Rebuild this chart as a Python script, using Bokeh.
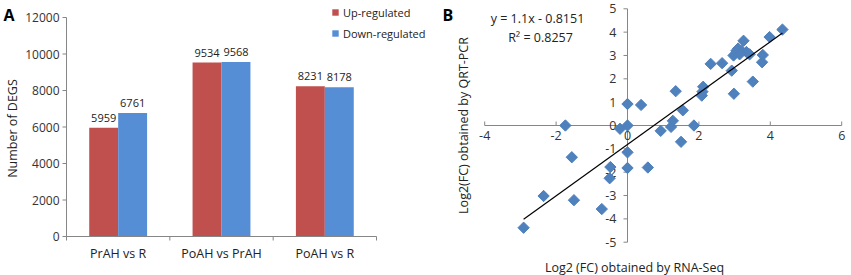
import numpy as np
from bokeh.plotting import figure
from bokeh.models import Range1d, Legend, LegendItem, Label, ColumnDataSource
from bokeh.layouts import row
from bokeh.embed import file_html
from bokeh.resources import INLINE
from bokeh.core.properties import value

# ---------------- data ----------------
comparisons = ["PrAH vs R", "PoAH vs PrAH", "PoAH vs R"]
up_regulated = [5959, 9534, 8231]
down_regulated = [6761, 9568, 8178]
deg_ticks = [0, 2000, 4000, 6000, 8000, 10000, 12000]

rnaseq_fc = [-2.91, -2.35, -1.50, -1.56, -1.74, -0.72, -0.48, -0.50, -0.21, 0.0,
             0.0, 0.0, 0.0, 0.38, 0.57, 0.93, 1.22, 1.27, 1.35, 1.55,
             1.50, 1.86, 2.08, 2.10, 2.12, 2.33, 2.65, 2.92, 2.97, 2.98,
             3.05, 3.10, 3.19, 3.25, 3.33, 3.42, 3.14, 3.51, 3.77, 3.79,
             3.98, 4.34]
qrtpcr_fc = [-4.38, -3.02, -3.20, -1.36, 0.0, -3.58, -1.78, -2.26, -0.14, 0.0,
             0.92, -1.15, -1.82, 0.88, -1.80, -0.23, -0.06, 0.20, 1.47, 0.65,
             -0.70, 0.0, 1.28, 1.45, 1.66, 2.64, 2.67, 2.35, 3.00, 1.36,
             3.20, 3.30, 3.20, 3.63, 3.15, 3.05, 3.05, 1.88, 2.71, 3.02,
             3.79, 4.11]
fit_slope = 1.1
fit_intercept = -0.8151
r_squared = 0.8257
x_ticks_b = [-4, -2, 0, 2, 4, 6]
y_ticks_b = [-5, -4, -3, -2, -1, 0, 1, 2, 3, 4, 5]

RED = "#C0504D"
BLUE = "#558ED5"
MARK = "#4F81BD"
AXIS = "#868686"
TXT = "#333333"
FONT = value("Open Sans")
FONTN = "Open Sans"

H = 275

# ================= panel A =================
WA = 430
A_L, A_R, A_T, A_B = 66.0, 376.0, 17.0, 236.0
n = len(comparisons)
ymax_a = deg_ticks[-1]
ppx_a = (A_R - A_L) / n
ppy_a = (A_B - A_T) / ymax_a

pa = figure(width=WA, height=H, output_backend="svg", toolbar_location=None,
            x_range=Range1d(-A_L / ppx_a, n + (WA - A_R) / ppx_a),
            y_range=Range1d(-(H - A_B) / ppy_a, ymax_a + A_T / ppy_a),
            min_border=0)
pa.axis.visible = False
pa.grid.visible = False
pa.outline_line_color = None

centers = np.arange(n) + 0.5
bw = 0.28
src = ColumnDataSource(dict(
    xu=centers - bw / 2, xd=centers + bw / 2,
    up=up_regulated, down=down_regulated,
    upl=[str(v) for v in up_regulated], downl=[str(v) for v in down_regulated]))

r_up = pa.vbar(x="xu", top="up", width=bw, source=src, fill_color=RED, line_color=None)
r_dn = pa.vbar(x="xd", top="down", width=bw, source=src, fill_color=BLUE, line_color=None)
pa.text(x="xu", y="up", text="upl", source=src, text_align="center",
        text_baseline="bottom", y_offset=-6, text_font_size="11px",
        text_color="#222222", text_font=FONT)
pa.text(x="xd", y="down", text="downl", source=src, text_align="center",
        text_baseline="bottom", y_offset=-6, text_font_size="11px",
        text_color="#222222", text_font=FONT)

# y axis
pa.segment(x0=[0], y0=[0], x1=[0], y1=[ymax_a], line_color=AXIS, line_width=1)
pa.segment(x0=[0] * len(deg_ticks), y0=deg_ticks,
           x1=[-4 / ppx_a] * len(deg_ticks), y1=deg_ticks, line_color=AXIS)
pa.text(x=[0] * len(deg_ticks), y=deg_ticks, text=[str(t) for t in deg_ticks],
        x_offset=-7, text_align="right", text_baseline="middle",
        text_font_size="12px", text_color=TXT, text_font=FONT)
# x axis
bounds = list(range(n + 1))
pa.segment(x0=[0], y0=[0], x1=[n], y1=[0], line_color=AXIS)
pa.segment(x0=bounds, y0=[0] * len(bounds), x1=bounds, y1=[-4 / ppy_a] * len(bounds),
           line_color=AXIS)
pa.text(x=centers, y=[0] * n, text=comparisons, y_offset=8, text_align="center",
        text_baseline="top", text_font_size="12.5px", text_color="#222222",
        text_font=FONT)

pa.add_layout(Label(x=12, y=H - 128, x_units="screen", y_units="screen",
                    text="Number of DEGS", angle=np.pi / 2, text_align="center",
                    text_baseline="middle", text_font_size="12.5px",
                    text_font=FONTN, text_color="#222222"))
pa.add_layout(Label(x=3, y=H - 3, x_units="screen", y_units="screen", text="A",
                    text_font_size="16px", text_font_style="bold",
                    text_baseline="top", text_font=FONTN, text_color="#000000"))

legend = Legend(items=[LegendItem(label="Up-regulated", renderers=[r_up]),
                       LegendItem(label="Down-regulated", renderers=[r_dn])],
                location=(331, H - 41), orientation="vertical",
                glyph_width=8, glyph_height=8, label_height=16, spacing=5,
                padding=2, margin=0, label_standoff=4,
                label_text_font_size="11px", label_text_font=FONTN,
                label_text_color="#222222",
                background_fill_alpha=0, border_line_color=None)
pa.add_layout(legend)

# ================= panel B =================
WB = 421
X0_PX, PPX_B = 197.0, 35.7      # x=0 position and pixels per unit
Y0_PX, PPY_B = 125.0, 23.34     # y=0 position (from top) and pixels per unit
pb = figure(width=WB, height=H, output_backend="svg", toolbar_location=None,
            x_range=Range1d(-X0_PX / PPX_B, (WB - X0_PX) / PPX_B),
            y_range=Range1d(-(H - Y0_PX) / PPY_B, Y0_PX / PPY_B),
            min_border=0)
pb.axis.visible = False
pb.grid.visible = False
pb.outline_line_color = None

# crossing axes
pb.segment(x0=[x_ticks_b[0]], y0=[0], x1=[x_ticks_b[-1]], y1=[0], line_color=AXIS)
pb.segment(x0=[0], y0=[y_ticks_b[0]], x1=[0], y1=[y_ticks_b[-1]], line_color=AXIS)
pb.segment(x0=x_ticks_b, y0=[0] * len(x_ticks_b), x1=x_ticks_b,
           y1=[4 / PPY_B] * len(x_ticks_b), line_color=AXIS)
pb.segment(x0=[0] * len(y_ticks_b), y0=y_ticks_b, x1=[-4 / PPX_B] * len(y_ticks_b),
           y1=y_ticks_b, line_color=AXIS)
pb.text(x=x_ticks_b, y=[0] * len(x_ticks_b), text=[str(t) for t in x_ticks_b],
        y_offset=5, text_align="center", text_baseline="top",
        text_font_size="12.5px", text_color=TXT, text_font=FONT)
pb.text(x=[0] * len(y_ticks_b), y=y_ticks_b, text=[str(t) for t in y_ticks_b],
        x_offset=-11, text_align="right", text_baseline="middle",
        text_font_size="12.5px", text_color=TXT, text_font=FONT)

pb.scatter(rnaseq_fc, qrtpcr_fc, marker="square", angle=np.pi / 4, size=8,
           fill_color=MARK, line_color=MARK)
line_x = np.array([min(rnaseq_fc), max(rnaseq_fc)])
pb.line(line_x, fit_slope * line_x + fit_intercept, line_color="#000000", line_width=1.2)

pb.add_layout(Label(x=107, y=H - 18, x_units="screen", y_units="screen",
                    text=f"y = {fit_slope}x - {abs(fit_intercept)}",
                    text_align="center", text_baseline="middle",
                    text_font_size="12.5px", text_font=FONTN, text_color="#222222"))
pb.add_layout(Label(x=110, y=H - 37, x_units="screen", y_units="screen",
                    text=f"R\u00b2 = {r_squared}",
                    text_align="center", text_baseline="middle",
                    text_font_size="12.5px", text_font=FONTN, text_color="#222222"))
pb.add_layout(Label(x=33, y=H - 125, x_units="screen", y_units="screen",
                    text="Log2(FC) obtained by QRT-PCR", angle=np.pi / 2,
                    text_align="center", text_baseline="middle",
                    text_font_size="12.5px", text_font=FONTN, text_color="#222222"))
pb.add_layout(Label(x=204, y=8, x_units="screen", y_units="screen",
                    text="Log2 (FC) obtained by RNA-Seq",
                    text_align="center", text_baseline="middle",
                    text_font_size="12.5px", text_font=FONTN, text_color="#222222"))
pb.add_layout(Label(x=12, y=H - 3, x_units="screen", y_units="screen", text="B",
                    text_font_size="16px", text_font_style="bold",
                    text_baseline="top", text_font=FONTN, text_color="#000000"))

layout = row(pa, pb)
open("out.html", "w").write(file_html(layout, INLINE))
